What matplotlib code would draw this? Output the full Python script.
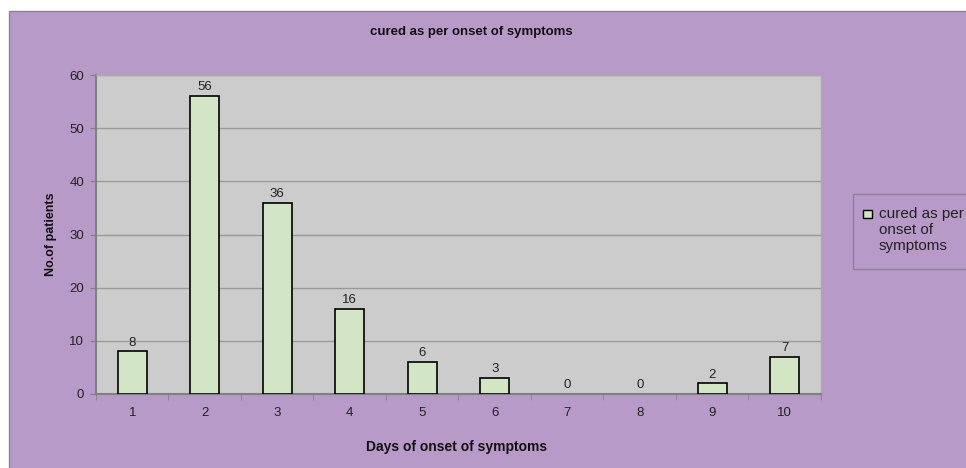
import matplotlib
matplotlib.use("Agg")
import matplotlib.pyplot as plt
from matplotlib.patches import Rectangle

days = [1, 2, 3, 4, 5, 6, 7, 8, 9, 10]
patients = [8, 56, 36, 16, 6, 3, 0, 0, 2, 7]
yticks = [0, 10, 20, 30, 40, 50, 60]
title = "cured as per onset of symptoms"
legend_lines = ["cured as per", "onset of", "symptoms"]

plt.rcParams['font.family'] = ['Liberation Sans', 'DejaVu Sans']

W, H = 966, 468
fig = plt.figure(figsize=(W / 100, H / 100), dpi=100, facecolor='white')

purple = '#B89AC9'
edge = '#8E7E9A'
fig.patches.append(Rectangle((9 / W, -0.01), 1.0, 1.01 - 11 / H, transform=fig.transFigure,
                             facecolor=purple, edgecolor=edge, linewidth=1.0, zorder=-5))

ax = fig.add_axes([96 / W, 1 - 394 / H, (821 - 96) / W, (394 - 75) / H])
ax.set_facecolor('#CCCCCC')
bar_fill = '#D2E6C6'
bars = ax.bar(days, patients, width=0.4, color=bar_fill, edgecolor='black', linewidth=1.2, zorder=3)
for b, v in zip(bars, patients):
    if v == 0:
        b.set_linewidth(0)
ax.bar_label(bars, labels=[str(v) for v in patients], padding=2, fontsize=9.5, color='#222222')

ax.set_xlim(0.5, 10.5)
ax.set_ylim(0, 60)
ax.set_yticks(yticks)
ax.set_xticks(days)
ax.set_xticklabels([str(d) for d in days])
ax.set_xticks([d + 0.5 for d in [0] + days], minor=True)
ax.tick_params(axis='x', which='major', length=0, pad=9.5, labelsize=9.5, colors='#222222')
ax.tick_params(axis='x', which='minor', length=4, direction='out', color='#808080')
ax.tick_params(axis='y', length=4, direction='out', color='#808080', labelsize=9.5, labelcolor='#222222', pad=4.5)
ax.grid(axis='y', color='#999999', linewidth=1.0, zorder=0)
ax.set_axisbelow(True)
for s in ['top', 'right']:
    ax.spines[s].set_color('#AAAAAA')
    ax.spines[s].set_linewidth(1.0)
for s in ['left', 'bottom']:
    ax.spines[s].set_color('#808080')
    ax.spines[s].set_linewidth(1.5)

fig.text(471 / W, 1 - 32 / H, title, ha='center', va='center', fontsize=9.5, fontweight='bold', color='#111111')
fig.text(457 / W, 1 - 447 / H, "Days of onset of symptoms", ha='center', va='center', fontsize=10, fontweight='bold', color='#111111')
fig.text(51 / W, 1 - 234 / H, "No.of patients", ha='center', va='center', rotation=90, fontsize=9, fontweight='bold', color='#111111')

# legend drawn as a box with swatch and wrapped text
fig.patches.append(Rectangle((853 / W, 1 - 269 / H), 130 / W, 75 / H, transform=fig.transFigure,
                             facecolor=purple, edgecolor=edge, linewidth=1.0, zorder=2))
fig.patches.append(Rectangle((863 / W, 1 - 218 / H), 9 / W, 8 / H, transform=fig.transFigure,
                             facecolor=bar_fill, edgecolor='black', linewidth=1.0, zorder=3))
for i, line in enumerate(legend_lines):
    fig.text(879 / W, 1 - (214 + 16 * i) / H, line, ha='left', va='center', fontsize=11, color='#222222', zorder=4)

fig.savefig('out.png', dpi=100, facecolor='white')
